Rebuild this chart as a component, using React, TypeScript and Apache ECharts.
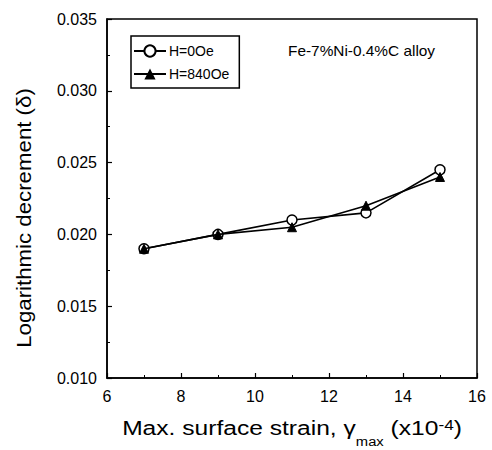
import React, { useEffect, useRef } from "react";
import * as echarts from "echarts";

const strain = [7, 9, 11, 13, 15];
const h0 = [0.019, 0.02, 0.021, 0.0215, 0.0245];
const h840 = [0.019, 0.02, 0.0205, 0.022, 0.024];
const seriesNames = ["H=0Oe", "H=840Oe"];
const xTicks = [6, 8, 10, 12, 14, 16];
const yTicks = ["0.010", "0.015", "0.020", "0.025", "0.030", "0.035"];
const annotation = "Fe-7%Ni-0.4%C alloy";

export default function App() {
  const ref = useRef<HTMLDivElement>(null);
  useEffect(() => {
    if (!ref.current) return;
    const chart = echarts.init(ref.current, null, { renderer: "svg" });
    const font = "Liberation Sans, Arial, sans-serif";
    chart.setOption({
      animation: false,
      backgroundColor: "#ffffff",
      textStyle: { fontFamily: font, color: "#000" },
      grid: {
        left: 107,
        top: 19,
        right: 15,
        bottom: 72,
        show: true,
        borderColor: "#000",
        borderWidth: 1.5,
        backgroundColor: "transparent",
      },
      legend: {
        orient: "vertical",
        left: 131,
        top: 36,
        width: 110,
        padding: [8, 10, 7, 2],
        itemGap: 9,
        itemWidth: 32,
        itemHeight: 14,
        borderColor: "#000",
        borderWidth: 1.5,
        textStyle: { fontFamily: font, fontSize: 14, color: "#000", padding: [0, 0, 0, -2] },
        data: seriesNames,
      },
      xAxis: {
        type: "value",
        min: xTicks[0],
        max: xTicks[xTicks.length - 1],
        interval: 2,
        axisLine: { show: true, lineStyle: { color: "#000", width: 1.5 } },
        axisTick: { show: true, inside: true, length: 5, lineStyle: { color: "#000", width: 1.2 } },
        minorTick: { show: true, splitNumber: 2, length: 3, lineStyle: { color: "#000", width: 1 } },
        splitLine: { show: false },
        axisLabel: { fontSize: 16, color: "#000", margin: 10, fontFamily: font },
      },
      yAxis: {
        type: "value",
        min: Number(yTicks[0]),
        max: Number(yTicks[yTicks.length - 1]),
        interval: 0.005,
        axisLine: { show: true, lineStyle: { color: "#000", width: 1.5 } },
        axisTick: { show: true, inside: true, length: 5, lineStyle: { color: "#000", width: 1.2 } },
        minorTick: { show: true, splitNumber: 2, length: 3, lineStyle: { color: "#000", width: 1 } },
        splitLine: { show: false },
        axisLabel: {
          fontSize: 16,
          color: "#000",
          margin: 10,
          fontFamily: font,
          formatter: (v: number) => v.toFixed(3),
        },
      },
      graphic: [
        {
          type: "text",
          x: 24,
          y: 218,
          rotation: Math.PI / 2,
          scaleX: 1.06,
          style: {
            text: "Logarithmic decrement (δ)",
            fontSize: 21,
            fontFamily: font,
            fill: "#000",
            textAlign: "center",
            textVerticalAlign: "middle",
          },
        },
        {
          type: "text",
          x: 292,
          y: 431,
          scaleX: 1.23,
          style: {
            text: "{n|Max. surface strain, γ}{s|max}{n| (x10}{p|-4}{n|)}",
            fontFamily: font,
            fill: "#000",
            textAlign: "center",
            textVerticalAlign: "middle",
            rich: {
              n: { fontSize: 20, fontFamily: font, fill: "#000", lineHeight: 26, verticalAlign: "top" },
              s: { fontSize: 12, fontFamily: font, fill: "#000", lineHeight: 26, padding: [18, 0, 0, 0], verticalAlign: "top" },
              p: { fontSize: 14, fontFamily: font, fill: "#000", lineHeight: 26, verticalAlign: "top" },
            },
          },
        },
        {
          type: "text",
          x: 288,
          y: 51,
          scaleX: 1.1,
          style: {
            text: annotation,
            fontSize: 14,
            fontFamily: font,
            fill: "#000",
            textAlign: "left",
            textVerticalAlign: "middle",
          },
        },
      ],
      series: [
        {
          name: seriesNames[0],
          type: "line",
          data: strain.map((x, i) => [x, h0[i]]),
          symbol: "circle",
          symbolSize: 10,
          lineStyle: { color: "#000", width: 1.6 },
          itemStyle: { color: "#fff", borderColor: "#000", borderWidth: 1.5 },
          z: 2,
        },
        {
          name: seriesNames[1],
          type: "line",
          data: strain.map((x, i) => [x, h840[i]]),
          symbol: "triangle",
          symbolSize: 9,
          lineStyle: { color: "#000", width: 1.6 },
          itemStyle: { color: "#000", borderColor: "#000" },
          z: 3,
        },
      ],
    });
    return () => chart.dispose();
  }, []);
  return (
    <div
      ref={ref}
      style={{ position: "fixed", left: 0, top: 0, width: 492, height: 450 }}
    />
  );
}
